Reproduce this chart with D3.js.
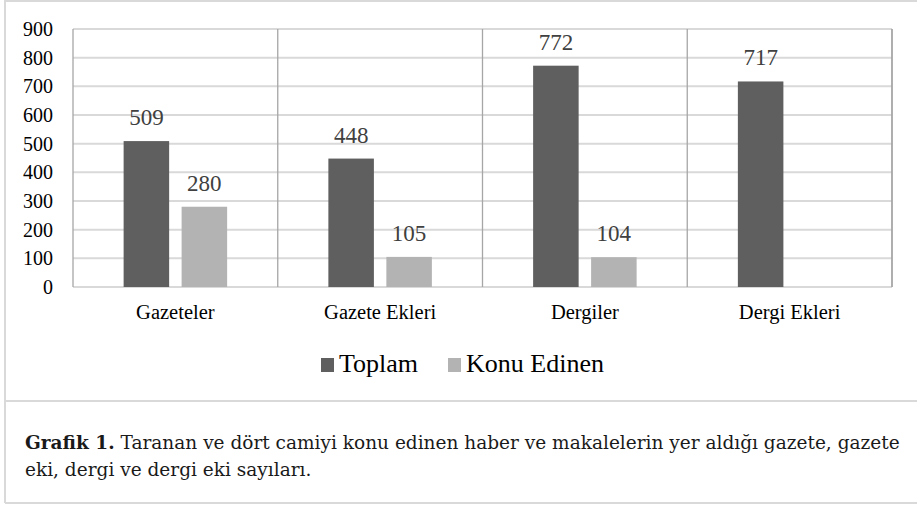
<!DOCTYPE html>
<html>
<head>
<meta charset="utf-8">
<script src="https://cdn.jsdelivr.net/npm/d3@7"></script>
<style>
  body { margin: 0; background: #fff; }
  svg { display: block; }
  svg text { font-family: "Liberation Serif", "Tinos", "Times New Roman", serif; }
  svg text.caption { font-family: "DejaVu Serif", "Liberation Serif", serif; }
</style>
</head>
<body>
<div id="chart"></div>
<script>
// chart values
const categories = ["Gazeteler", "Gazete Ekleri", "Dergiler", "Dergi Ekleri"];
const seriesNames = ["Toplam", "Konu Edinen"];
const toplam = [509, 448, 772, 717];
const konuEdinen = [280, 105, 104, 0];
const yTicks = [0, 100, 200, 300, 400, 500, 600, 700, 800, 900];
const captionBold = "Grafik 1.";
const captionLine1 = " Taranan ve dört camiyi konu edinen haber ve makalelerin yer aldığı gazete, gazete";
const captionLine2 = "eki, dergi ve dergi eki sayıları.";

const W = 917, H = 505;
const margin = { top: 29, right: 25, bottom: 218, left: 73 };
const plotW = W - margin.left - margin.right;
const plotH = H - margin.top - margin.bottom;

const colors = ["#5f5f5f", "#b3b3b3"];

const svg = d3.select("#chart").append("svg")
    .attr("width", W)
    .attr("height", H);

// outer frame (figure box)
svg.append("line").attr("x1", 5).attr("x2", W).attr("y1", 1).attr("y2", 1)
    .attr("stroke", "#d9d9d9").attr("stroke-width", 2);
svg.append("line").attr("x1", 5).attr("x2", 5).attr("y1", 0).attr("y2", H - 2)
    .attr("stroke", "#d9d9d9").attr("stroke-width", 2);
svg.append("line").attr("x1", 5).attr("x2", W).attr("y1", 401).attr("y2", 401)
    .attr("stroke", "#d9d9d9").attr("stroke-width", 2);
svg.append("line").attr("x1", 5).attr("x2", W).attr("y1", H - 2).attr("y2", H - 2)
    .attr("stroke", "#d9d9d9").attr("stroke-width", 2);

const g = svg.append("g")
    .attr("transform", `translate(${margin.left},${margin.top})`);

const x0 = d3.scaleBand()
    .domain(categories)
    .range([0, plotW])
    .paddingInner(0)
    .paddingOuter(0);

const x1 = d3.scaleBand()
    .domain(seriesNames)
    .range([0, x0.bandwidth()])
    .paddingInner(0.215)
    .paddingOuter(0.873);

const y = d3.scaleLinear()
    .domain([0, 900])
    .range([plotH, 0]);

// gridlines
g.append("g")
    .selectAll("line")
    .data(yTicks)
    .join("line")
    .attr("x1", 0)
    .attr("x2", plotW)
    .attr("y1", d => y(d))
    .attr("y2", d => y(d))
    .attr("stroke", "#d9d9d9")
    .attr("stroke-width", 2);

// category separators
g.append("g")
    .selectAll("line")
    .data(categories.concat(["__end"]))
    .join("line")
    .attr("x1", (d, i) => i < categories.length ? x0(d) : plotW)
    .attr("x2", (d, i) => i < categories.length ? x0(d) : plotW)
    .attr("y1", 0)
    .attr("y2", plotH)
    .attr("stroke", "#a6a6a6")
    .attr("stroke-width", (d, i) => i === categories.length ? 1.8 : 1.3);

// y axis labels
const yAxis = g.append("g")
    .call(d3.axisLeft(y).tickValues(yTicks).tickSize(0).tickPadding(20));
yAxis.attr("font-family", null).select(".domain").remove();
yAxis.selectAll("text")
    .attr("font-size", 20)
    .attr("fill", "#000");

// x axis labels
const xAxis = g.append("g")
    .attr("transform", `translate(0,${plotH})`)
    .call(d3.axisBottom(x0).tickSize(0).tickPadding(17));
xAxis.attr("font-family", null).select(".domain").remove();
xAxis.selectAll("text")
    .attr("font-size", 20.5)
    .attr("fill", "#000");

// bars
const rows = categories.map((c, i) => ({
    category: c,
    values: [
        { series: seriesNames[0], value: toplam[i] },
        { series: seriesNames[1], value: konuEdinen[i] }
    ]
}));

const groups = g.append("g")
    .selectAll("g")
    .data(rows)
    .join("g")
    .attr("transform", d => `translate(${x0(d.category)},0)`);

groups.selectAll("rect")
    .data(d => d.values.filter(v => v.value > 0))
    .join("rect")
    .attr("x", d => x1(d.series))
    .attr("width", x1.bandwidth())
    .attr("y", d => y(d.value))
    .attr("height", d => plotH - y(d.value))
    .attr("fill", d => colors[seriesNames.indexOf(d.series)]);

groups.selectAll("text")
    .data(d => d.values.filter(v => v.value > 0))
    .join("text")
    .attr("x", d => x1(d.series) + x1.bandwidth() / 2)
    .attr("y", d => y(d.value) - 16)
    .attr("text-anchor", "middle")
    .attr("font-size", 23)
    .attr("fill", "#404040")
    .text(d => d.value);

// legend
const legendX = [321, 448];
const legend = svg.append("g")
    .selectAll("g")
    .data(seriesNames)
    .join("g")
    .attr("transform", (d, i) => `translate(${legendX[i]},358)`);

legend.append("rect")
    .attr("width", 13)
    .attr("height", 14)
    .attr("fill", (d, i) => colors[i]);

legend.append("text")
    .attr("x", 18)
    .attr("y", 14)
    .attr("font-size", 26)
    .attr("fill", "#000")
    .text(d => d);

// caption - size it so the first line runs to x = 900 like the original
let capSize = 18;
const cap1 = svg.append("text")
    .attr("class", "caption")
    .attr("x", 25)
    .attr("y", 449)
    .attr("font-size", capSize)
    .attr("fill", "#1a1a1a");
cap1.append("tspan").attr("font-weight", "bold").text(captionBold);
cap1.append("tspan").text(captionLine1);

const measured = cap1.node().getComputedTextLength();
if (measured > 0) capSize = capSize * 875 / measured;
cap1.attr("font-size", capSize);

svg.append("text")
    .attr("class", "caption")
    .attr("x", 25)
    .attr("y", 476)
    .attr("font-size", capSize)
    .attr("fill", "#1a1a1a")
    .text(captionLine2);
</script>
</body>
</html>
